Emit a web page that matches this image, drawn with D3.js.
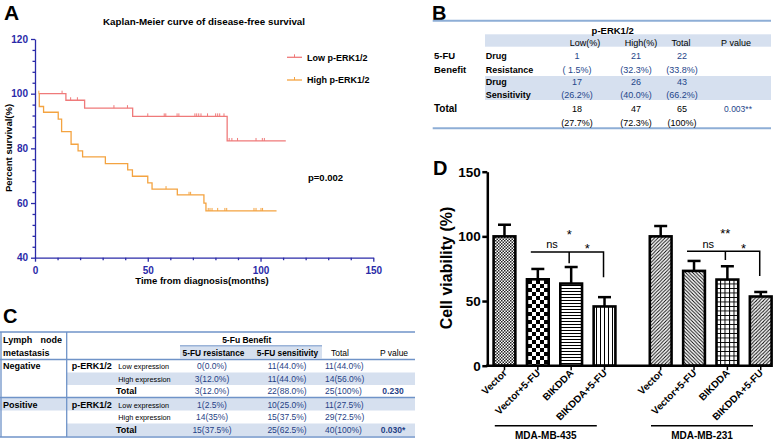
<!DOCTYPE html>
<html><head><meta charset="utf-8">
<script src="https://cdn.jsdelivr.net/npm/d3@7"></script>
<style>
body{margin:0;background:#fff;}
svg{display:block;font-family:"Liberation Sans",Arial,sans-serif;}
</style></head><body><svg id="c" width="783" height="443"></svg>
<script>
// ---------- Panel A data ----------
const kmXTicks = [0, 50, 100, 150];
const kmYTicks = [40, 60, 80, 100, 120];
const kmXMinor = [10,20,30,40,60,70,80,90,110,120,130,140];
const kmYMinor = [44,48,52,56,64,68,72,76,84,88,92,96,104,108,112,116];
const lowTimes = [1.7, 13.7, 22, 43.3, 85.2, 111.2];
const lowSurv  = [100, 97.6, 94.7, 91.7, 82.7, 82.7];
const lowCensor = [12, 15.8, 18.8, 35, 41, 50, 57.3, 58, 63, 63.8, 70.9, 71.7, 72.6, 73.6, 76.5, 80.1, 81, 81.9, 83.8, 86.1, 87.3, 89.8, 98, 100.8, 101.7];
const highTimes = [1.7, 1.9, 3.8, 10.3, 11.8, 16, 19.1, 21.1, 31.2, 41.1, 43.2, 50, 51.9, 63.1, 74.9, 75.8, 107.1];
const highSurv  = [100, 95.3, 93.2, 90.7, 86.1, 81.5, 79.1, 76.9, 74.4, 72.1, 69.8, 67.4, 65.1, 63.0, 60.0, 57.1, 57.1];
const highCensor = [1.7, 58.1, 68.3, 69, 76.8, 77.6, 78.5, 81, 84.2, 85, 97.1, 98, 100.2, 100.9];
const kmSeries = ["Low p-ERK1/2", "High p-ERK1/2"];
const kmP = "p=0.002";

// ---------- Panel B data ----------
const bHeaders = ["Low(%)", "High(%)", "Total", "P value"];
const bResist = ["1", "21", "22"];
const bResistPct = ["( 1.5%)", "(32.3%)", "(33.8%)"];
const bSens = ["17", "26", "43"];
const bSensPct = ["(26.2%)", "(40.0%)", "(66.2%)"];
const bTotal = ["18", "47", "65"];
const bTotalPct = ["(27.7%)", "(72.3%)", "(100%)"];
const bP = "0.003**";

// ---------- Panel C data ----------
const cHeaders = ["5-FU resistance", "5-FU sensitivity", "Total", "P value"];
const cNegLow = ["0(0.0%)", "11(44.0%)", "11(44.0%)"];
const cNegHigh = ["3(12.0%)", "11(44.0%)", "14(56.0%)"];
const cNegTotal = ["3(12.0%)", "22(88.0%)", "25(100%)"];
const cNegP = "0.230";
const cPosLow = ["1(2.5%)", "10(25.0%)", "11(27.5%)"];
const cPosHigh = ["14(35%)", "15(37.5%)", "29(72.5%)"];
const cPosTotal = ["15(37.5%)", "25(62.5%)", "40(100%)"];
const cPosP = "0.030*";

// ---------- Panel D data ----------
const cellLines = ["MDA-MB-435", "MDA-MB-231"];
const treatments = ["Vector", "Vector+5-FU", "BIKDDA", "BIKDDA+5-FU"];
const viability435 = [100, 66.8, 63.5, 45.8];
const error435 = [9, 8, 12.8, 7.2];
const viability231 = [100, 73.3, 66.6, 53.5];
const error231 = [8, 7.7, 10.3, 3.5];
const dYTicks = [0, 50, 100, 150];
const sigTop = ["*", "**"];

const svg = d3.select("#c");
function txt(g, x, y, s, o = {}) {
  return g.append("text").attr("x", x).attr("y", y).text(s)
    .attr("font-size", o.size || 9).attr("font-weight", o.bold ? "bold" : "normal")
    .attr("fill", o.fill || "#000").attr("text-anchor", o.anchor || "start");
}

// ================= Panel A =================
{
  const g = svg.append("g");
  const axisCol = "#2a2aa8";
  const x = d3.scaleLinear([0, 150], [35, 373.3]);
  const y = d3.scaleLinear([40, 120], [257.7, 39]);
  txt(g, 4, 20, "A", {size: 21, bold: true});
  txt(g, 204, 24.5, "Kaplan-Meier curve of disease-free survival", {size: 9.8, bold: true, anchor: "middle"});

  const xa = g.append("g").attr("transform", `translate(0,${y(40)})`)
    .call(d3.axisBottom(x).tickValues(kmXTicks).tickSize(4).tickSizeOuter(0));
  const xm = g.append("g").attr("transform", `translate(0,${y(40)})`)
    .call(d3.axisBottom(x).tickValues(kmXMinor).tickSize(2.5).tickFormat(""));
  const ya = g.append("g").attr("transform", `translate(${x(0)},0)`)
    .call(d3.axisLeft(y).tickValues(kmYTicks).tickSize(4).tickSizeOuter(0));
  const ym = g.append("g").attr("transform", `translate(${x(0)},0)`)
    .call(d3.axisLeft(y).tickValues(kmYMinor).tickSize(2.5).tickFormat(""));
  [xa, xm, ya, ym].forEach(a => {
    a.selectAll("path,line").attr("stroke", axisCol).attr("stroke-width", 1.3);
    a.selectAll("text").attr("fill", axisCol).attr("font-size", 10).attr("font-weight", "bold")
      .attr("font-family", "Liberation Sans, Arial, sans-serif");
  });
  xm.select("path").remove(); ym.select("path").remove();
  xa.selectAll("text").attr("dy", "0.9em");

  txt(g, 202, 284, "Time from diagnosis(months)", {size: 9.5, bold: true, anchor: "middle"});
  g.append("text").attr("transform", "translate(12,148) rotate(-90)").attr("text-anchor", "middle")
    .attr("font-size", 9.5).attr("font-weight", "bold").text("Percent survival(%)");

  const line = d3.line().x(d => x(d[0])).y(d => y(d[1])).curve(d3.curveStepAfter);
  const series = [
    {t: lowTimes, s: lowSurv, c: lowCensor, col: "#ef7a7a"},
    {t: highTimes, s: highSurv, c: highCensor, col: "#f4a340"}
  ];
  series.forEach(sr => {
    const pts = sr.t.map((t, i) => [t, sr.s[i]]);
    g.append("path").attr("d", line(pts)).attr("fill", "none").attr("stroke", sr.col).attr("stroke-width", 1.3);
    const bis = d3.bisector(d => d).right;
    sr.c.forEach(ct => {
      const idx = Math.max(0, bis(sr.t, ct) - 1);
      const v = sr.s[idx];
      g.append("line").attr("x1", x(ct)).attr("x2", x(ct)).attr("y1", y(v)).attr("y2", y(v) - 3)
        .attr("stroke", sr.col).attr("stroke-width", 1);
    });
  });
  // legend
  kmSeries.forEach((name, i) => {
    const ly = 57.3 + i * 22.7;
    const col = series[i].col;
    g.append("line").attr("x1", 287).attr("x2", 302).attr("y1", ly).attr("y2", ly).attr("stroke", col).attr("stroke-width", 1.3);
    g.append("line").attr("x1", 294.5).attr("x2", 294.5).attr("y1", ly).attr("y2", ly - 3).attr("stroke", col);
    txt(g, 307, ly + 3.3, name, {size: 9, bold: true});
  });
  txt(g, 308, 180.5, kmP, {size: 9.5, bold: true});
}

// ================= Panel B =================
{
  const g = svg.append("g");
  const lineCol = "#8eaed6", shade = "#d6e0ef", valCol = "#25468a";
  txt(g, 432, 20, "B", {size: 20, bold: true});
  g.append("rect").attr("x", 485).attr("y", 34.3).attr("width", 286).attr("height", 12.4).attr("fill", shade);
  g.append("rect").attr("x", 485).attr("y", 76).attr("width", 286).attr("height", 24).attr("fill", shade);
  g.append("line").attr("x1", 432.7).attr("x2", 771).attr("y1", 20.7).attr("y2", 20.7).attr("stroke", lineCol).attr("stroke-width", 2);
  g.append("line").attr("x1", 432.7).attr("x2", 771).attr("y1", 128.3).attr("y2", 128.3).attr("stroke", lineCol).attr("stroke-width", 2);
  txt(g, 612.7, 33.5, "p-ERK1/2", {size: 9.5, bold: true, anchor: "middle"});
  const hx = [585, 641, 681, 736];
  bHeaders.forEach((h, i) => txt(g, hx[i], 45.5, h, {size: 9, anchor: "middle"}));
  const vx = [577, 636, 682];
  txt(g, 434, 59.2, "5-FU", {size: 9.5, bold: true});
  txt(g, 434, 73.2, "Benefit", {size: 9.5, bold: true});
  txt(g, 485.7, 59.2, "Drug", {size: 9, bold: true});
  txt(g, 485.7, 73.2, "Resistance", {size: 9, bold: true});
  txt(g, 485.7, 84.9, "Drug", {size: 9, bold: true});
  txt(g, 485.7, 98.2, "Sensitivity", {size: 9, bold: true});
  txt(g, 434, 112.2, "Total", {size: 10, bold: true});
  const rows = [[bResist, 59.2, valCol], [bResistPct, 73.2, valCol], [bSens, 84.9, valCol], [bSensPct, 98.2, valCol], [bTotal, 112.2, "#000"], [bTotalPct, 125.5, "#000"]];
  rows.forEach(([arr, yy, col]) => arr.forEach((v, i) => txt(g, vx[i], yy, v, {size: 9, anchor: "middle", fill: col})));
  txt(g, 738, 112.2, bP, {size: 8.5, anchor: "middle", fill: valCol});
}

// ================= Panel C =================
{
  const g = svg.append("g");
  const lineCol = "#6f93c8", shade = "#d6e0ef", valCol = "#1f3f86";
  txt(g, 3, 323, "C", {size: 20, bold: true});
  g.append("rect").attr("x", 180).attr("y", 346).attr("width", 142).attr("height", 12.5).attr("fill", shade);
  g.append("rect").attr("x", 66.7).attr("y", 372.5).attr("width", 348.3).attr("height", 12.5).attr("fill", shade);
  g.append("rect").attr("x", 0).attr("y", 398).attr("width", 415).attr("height", 12.5).attr("fill", shade);
  g.append("rect").attr("x", 66.7).attr("y", 423.5).attr("width", 348.3).attr("height", 12.5).attr("fill", shade);
  [[0, 415, 332, 1.5], [180, 322, 345.8, 1], [0, 415, 359.5, 1.5], [0, 415, 397.5, 1.5], [0, 415, 437, 1.5]].forEach(([a, b, yy, w]) =>
    g.append("line").attr("x1", a).attr("x2", b).attr("y1", yy).attr("y2", yy).attr("stroke", lineCol).attr("stroke-width", w));
  [1, 66.7].forEach(xx => g.append("line").attr("x1", xx).attr("x2", xx).attr("y1", 332).attr("y2", 437).attr("stroke", lineCol).attr("stroke-width", 1.3));
  txt(g, 3, 342.5, "Lymph", {size: 9, bold: true});
  txt(g, 62, 342.5, "node", {size: 9, bold: true, anchor: "end"});
  txt(g, 3, 355.5, "metastasis", {size: 9, bold: true});
  txt(g, 246.7, 342.5, "5-Fu Benefit", {size: 8.5, bold: true, anchor: "middle"});
  txt(g, 213.5, 355.5, cHeaders[0], {size: 8.3, bold: true, anchor: "middle"});
  txt(g, 287.5, 355.5, cHeaders[1], {size: 8.3, bold: true, anchor: "middle"});
  txt(g, 331, 355.5, cHeaders[2], {size: 8.5, anchor: "start"});
  txt(g, 394, 355.5, cHeaders[3], {size: 8.5, anchor: "middle"});
  const rows = [
    ["Negative", "p-ERK1/2", "Low expression", cNegLow, 369, ""],
    ["", "", "High expression", cNegHigh, 381.7, ""],
    ["", "", "Total", cNegTotal, 393.5, cNegP],
    ["Positive", "p-ERK1/2", "Low expression", cPosLow, 407.7, ""],
    ["", "", "High expression", cPosHigh, 420, ""],
    ["", "", "Total", cPosTotal, 433.3, cPosP]
  ];
  rows.forEach(([a, b, c, vals, yy, p]) => {
    if (a) txt(g, 3, yy, a, {size: 9, bold: true});
    if (b) txt(g, 71.7, yy, b, {size: 9, bold: true});
    if (c === "Total") txt(g, 116, yy, c, {size: 9, bold: true});
    else txt(g, 118.3, yy, c, {size: 7.3});
    txt(g, 212, yy, vals[0], {size: 8.5, anchor: "middle", fill: valCol});
    txt(g, 287, yy, vals[1], {size: 8.5, anchor: "middle", fill: valCol});
    txt(g, 325, yy, vals[2], {size: 8.5, fill: valCol});
    if (p) txt(g, 393, yy, p, {size: 8.5, bold: true, anchor: "middle", fill: valCol});
  });
}

// ================= Panel D =================
{
  const g = svg.append("g");
  const defs = svg.append("defs");
  function pat(id, w, h, draw) {
    const p = defs.append("pattern").attr("id", id).attr("patternUnits", "userSpaceOnUse").attr("width", w).attr("height", h);
    p.append("rect").attr("width", w).attr("height", h).attr("fill", "#fff");
    draw(p);
  }
  pat("p0", 3, 3, p => { p.append("rect").attr("width", 1.5).attr("height", 1.5).attr("fill", "#222"); p.append("rect").attr("x", 1.5).attr("y", 1.5).attr("width", 1.5).attr("height", 1.5).attr("fill", "#222"); });
  pat("p1", 8, 8, p => { p.append("rect").attr("width", 4).attr("height", 4).attr("fill", "#000"); p.append("rect").attr("x", 4).attr("y", 4).attr("width", 4).attr("height", 4).attr("fill", "#000"); });
  pat("p2", 4, 3, p => p.append("line").attr("x1", 0).attr("x2", 4).attr("y1", 0.5).attr("y2", 0.5).attr("stroke", "#000").attr("stroke-width", 1));
  pat("p3", 4, 4, p => p.append("line").attr("x1", 0.5).attr("x2", 0.5).attr("y1", 0).attr("y2", 4).attr("stroke", "#000").attr("stroke-width", 1));
  pat("p4", 3.5, 3.5, p => { p.append("path").attr("d", "M-1,4.5 L4.5,-1 M-1,1 L1,-1 M2.5,4.5 L4.5,2.5").attr("stroke", "#000").attr("stroke-width", 0.9); });
  pat("p5", 3.5, 3.5, p => { p.append("path").attr("d", "M-1,-1 L4.5,4.5 M2.5,-1 L4.5,1 M-1,2.5 L1,4.5").attr("stroke", "#000").attr("stroke-width", 0.9); });
  pat("p6", 4.5, 4.5, p => { p.append("path").attr("d", "M0.5,0 V4.5 M0,0.5 H4.5").attr("stroke", "#000").attr("stroke-width", 1); });
  pat("p7", 3.5, 3.5, p => { p.append("path").attr("d", "M-1,4.5 L4.5,-1 M-1,1 L1,-1 M2.5,4.5 L4.5,2.5").attr("stroke", "#000").attr("stroke-width", 0.9); p.append("path").attr("d", "M0,0 L1.2,1.2").attr("stroke", "#777").attr("stroke-width", 0.6); });
  const patIds = [["p0", "p1", "p2", "p3"], ["p4", "p5", "p6", "p7"]];

  txt(g, 433, 175, "D", {size: 20, bold: true});
  const y = d3.scaleLinear([0, 150], [365.7, 171.7]);
  const xG = d3.scaleBand(cellLines, [487.8, 777.4]).paddingInner(0.146).paddingOuter(0);
  const xT = d3.scaleBand(treatments, [0, xG.bandwidth()]).paddingInner(0.27).paddingOuter(0.135);
  const cx = (gi, ti) => xG(cellLines[gi]) + xT(treatments[ti]) + xT.bandwidth() / 2;

  const data = [viability435, viability231];
  const errs = [error435, error231];
  data.forEach((vals, gi) => {
    vals.forEach((v, ti) => {
      const c = cx(gi, ti), bw = xT.bandwidth() - 2.6;
      g.append("line").attr("x1", c).attr("x2", c).attr("y1", y(v)).attr("y2", y(v + errs[gi][ti])).attr("stroke", "#000").attr("stroke-width", 2.5);
      g.append("line").attr("x1", c - 6.5).attr("x2", c + 6.5).attr("y1", y(v + errs[gi][ti])).attr("y2", y(v + errs[gi][ti])).attr("stroke", "#000").attr("stroke-width", 2.5);
      g.append("rect").attr("x", c - bw / 2).attr("y", y(v)).attr("width", bw).attr("height", y(0) - y(v))
        .attr("fill", `url(#${patIds[gi][ti]})`).attr("stroke", "#000").attr("stroke-width", 2.6);
      g.append("line").attr("x1", c).attr("x2", c).attr("y1", y(0)).attr("y2", y(0) + 4.5).attr("stroke", "#000").attr("stroke-width", 1.5);
      g.append("text").attr("transform", `translate(${c + 3},${y(0) + 8}) rotate(-45)`).attr("text-anchor", "end")
        .attr("font-size", 10).attr("font-weight", "bold").text(treatments[ti]);
    });
    const x0 = xG(cellLines[gi]);
    g.append("line").attr("x1", x0 + 7).attr("x2", x0 + 109).attr("y1", 425.7).attr("y2", 425.7).attr("stroke", "#000").attr("stroke-width", 1.5);
    txt(g, x0 + 58, 438.5, cellLines[gi], {size: 10, bold: true, anchor: "middle"});
  });
  const ya = g.append("g").attr("transform", `translate(487.3,0)`).call(d3.axisLeft(y).tickValues(dYTicks).tickSize(5).tickSizeOuter(0));
  ya.selectAll("path,line").attr("stroke", "#000").attr("stroke-width", 2.5);
  ya.selectAll("text").attr("font-size", 13.5).attr("font-weight", "bold").attr("fill", "#000").attr("font-family", "Liberation Sans, Arial, sans-serif").attr("x", -6.5);
  g.append("line").attr("x1", 486).attr("x2", 770).attr("y1", y(0)).attr("y2", y(0)).attr("stroke", "#000").attr("stroke-width", 2.5);
  g.append("text").attr("transform", "translate(452,268) rotate(-90)").attr("text-anchor", "middle")
    .attr("font-size", 16).attr("font-weight", "bold").text("Cell viability (%)");

  const brY = [88, 88.5], dropY = [68.4, 69.4], midY = [79.2, 81.7];
  [0, 1].forEach(gi => {
    const l = cx(gi, 1) - 7, m = cx(gi, 2) - 2, r = cx(gi, 3) - 1;
    g.append("path").attr("d", `M${l},${y(brY[gi])} H${r} V${y(dropY[gi])} M${m},${y(brY[gi])} V${y(midY[gi])}`)
      .attr("fill", "none").attr("stroke", "#000").attr("stroke-width", 1.5);
    txt(g, (l + m) / 2 + 2, y(brY[gi]) - 3.5, "ns", {size: 11, anchor: "middle"});
    txt(g, (m + r) / 2 + 1, y(brY[gi]) + 1.5, "*", {size: 13, anchor: "middle"});
    txt(g, m, y(brY[gi]) - 13, sigTop[gi], {size: 13, anchor: "middle"});
  });
}
</script></body></html>
